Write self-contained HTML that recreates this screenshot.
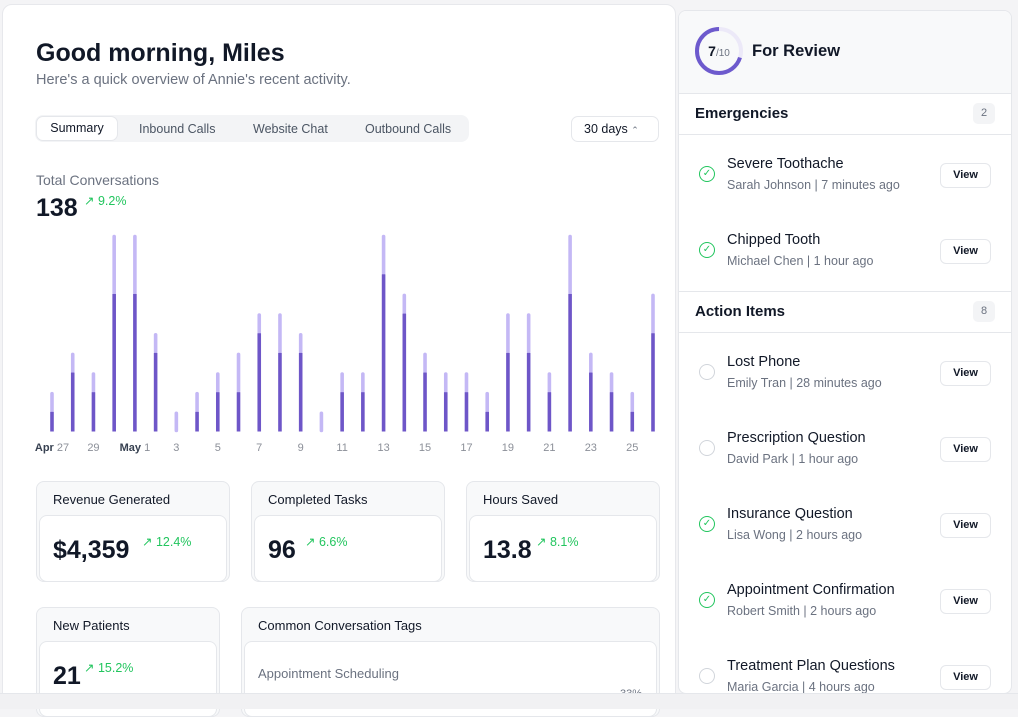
<!DOCTYPE html>
<html><head><meta charset="utf-8"><style>
*{box-sizing:border-box;margin:0;padding:0}
body{width:1018px;height:709px;overflow:hidden;background:#f4f4f6;font-family:"Liberation Sans",sans-serif;color:#111827;position:relative}
.abs{position:absolute}
.main{left:2px;top:4px;width:674px;height:700px;background:#fff;border:1px solid #e7e8ec;border-radius:10px}
.card{position:absolute;border:1px solid #e5e7eb;border-radius:8px;background:#f8f9fa}
.card .hd{position:absolute;left:16px;top:10px;font-size:13px;color:#111827}
.card .bd{position:absolute;left:2px;right:2px;top:33px;bottom:-1px;background:#fff;border:1px solid #e5e7eb;border-radius:8px}
.big{position:absolute;font-size:25px;font-weight:bold}
.pct{position:absolute;font-size:12.5px;color:#22c55e}
.right{left:678px;top:10px;width:334px;height:684px;background:#fff;border:1px solid #e5e7eb;border-radius:8px;overflow:hidden}
.item-t{position:absolute;left:48px;font-size:14.5px;color:#111827}
.item-s{position:absolute;left:48px;font-size:12.5px;color:#6b7280}
.view{position:absolute;left:261px;width:51px;height:25px;border:1px solid #e5e7eb;border-radius:6px;font-size:11px;font-weight:bold;text-align:center;line-height:23px;background:#fff}
.icon{position:absolute;left:20px;width:16px;height:16px;border-radius:50%}
</style></head><body>
<div class="abs main"></div>
<div class="abs" style="left:36px;top:39px;font-size:25px;font-weight:bold">Good morning, Miles</div>
<div class="abs" style="left:36px;top:72px;font-size:14.5px;color:#6b7280">Here's a quick overview of Annie's recent activity.</div>
<div class="abs" style="left:35px;top:115px;width:434px;height:27px;background:#f3f4f6;border-radius:8px"></div>
<div class="abs" style="left:36px;top:116px;width:82px;height:25px;background:#fff;border:1px solid #e5e7eb;border-radius:7px;font-size:12.5px;text-align:center;line-height:23px">Summary</div>
<div class="abs" style="left:139px;top:122px;font-size:12.5px;color:#4b5563">Inbound Calls</div>
<div class="abs" style="left:253px;top:122px;font-size:12.5px;color:#4b5563">Website Chat</div>
<div class="abs" style="left:365px;top:122px;font-size:12.5px;color:#4b5563">Outbound Calls</div>
<div class="abs" style="left:571px;top:116px;width:88px;height:26px;border:1px solid #e5e7eb;border-radius:7px;font-size:12.5px;line-height:24px;padding-left:12px">30 days <span style="font-size:9px;color:#6b7280">⌃</span></div>
<div class="abs" style="left:36px;top:172px;font-size:14px;color:#6b7280">Total Conversations</div>
<div class="abs" style="left:36px;top:194px;font-size:25px;font-weight:bold">138</div>
<div class="abs" style="left:84px;top:193px;font-size:12.5px;color:#22c55e">↗ 9.2%</div>
<svg class="abs" style="left:0;top:0" width="680" height="470" id="chart"></svg>

<div class="card" style="left:36px;top:481px;width:194px;height:101px"><div class="hd">Revenue Generated</div><div class="bd"></div><div class="big" style="left:16px;top:54px">$4,359</div><div class="pct" style="left:105px;top:52px">↗ 12.4%</div></div>
<div class="card" style="left:251px;top:481px;width:194px;height:101px"><div class="hd">Completed Tasks</div><div class="bd"></div><div class="big" style="left:16px;top:54px">96</div><div class="pct" style="left:53px;top:52px">↗ 6.6%</div></div>
<div class="card" style="left:466px;top:481px;width:194px;height:101px"><div class="hd">Hours Saved</div><div class="bd"></div><div class="big" style="left:16px;top:54px">13.8</div><div class="pct" style="left:69px;top:52px">↗ 8.1%</div></div>
<div class="card" style="left:36px;top:607px;width:184px;height:110px"><div class="hd">New Patients</div><div class="bd"></div><div class="big" style="left:16px;top:54px">21</div><div class="pct" style="left:47px;top:52px">↗ 15.2%</div></div>
<div class="card" style="left:241px;top:607px;width:419px;height:110px"><div class="hd">Common Conversation Tags</div><div class="bd"></div>
<div class="abs" style="left:16px;top:58px;font-size:13px;color:#6b7280">Appointment Scheduling</div>
<div class="abs" style="left:16px;top:85px;width:275px;height:4px;background:#f1f1f4;border-radius:2px"></div>
<div class="abs" style="left:16px;top:85px;width:112px;height:4px;background:#6d5acd;border-radius:2px"></div>
<div class="abs" style="left:378px;top:80px;font-size:11px;color:#6b7280">33%</div></div>
<div class="abs" style="left:0;top:693px;width:1018px;height:16px;background:#f1f1f3;border-top:1px solid #e5e7eb;z-index:5"></div>

<div class="abs right">
<div class="abs" style="left:0;top:0;width:334px;height:82px;background:#f8f9fa"></div>
<svg class="abs" style="left:16px;top:16px" width="50" height="50"><circle cx="24" cy="24" r="22" fill="none" stroke="#ece9f8" stroke-width="4"/><circle cx="24" cy="24" r="22" fill="none" stroke="#6d5acd" stroke-width="4" stroke-dasharray="96.8 138.2" transform="rotate(-90 24 24) scale(1,-1) translate(0,-48)"/><text x="24" y="29" text-anchor="middle" font-size="14" font-weight="bold" fill="#111827" font-family="Liberation Sans">7<tspan font-size="10" font-weight="normal" fill="#6b7280">/10</tspan></text></svg>
<div class="abs" style="left:73px;top:31px;font-size:16.5px;font-weight:bold">For Review</div>
<div class="abs" style="left:0;top:82px;width:334px;border-top:1px solid #e5e7eb"></div>
<div class="abs" style="left:16px;top:94px;font-size:15px;font-weight:bold">Emergencies</div>
<div class="abs" style="left:294px;top:92px;width:22px;height:21px;background:#f3f4f6;border-radius:5px;font-size:11px;color:#6b7280;text-align:center;line-height:21px">2</div>
<div class="abs" style="left:0;top:123px;width:334px;border-top:1px solid #e5e7eb"></div>
<div id="items"></div>
<div class="abs" style="left:0;top:280px;width:334px;border-top:1px solid #e5e7eb"></div>
<div class="abs" style="left:16px;top:292px;font-size:15px;font-weight:bold">Action Items</div>
<div class="abs" style="left:294px;top:290px;width:22px;height:21px;background:#f3f4f6;border-radius:5px;font-size:11px;color:#6b7280;text-align:center;line-height:21px">8</div>
<div class="abs" style="left:0;top:321px;width:334px;border-top:1px solid #e5e7eb"></div>
</div>
<script>
const categories=["Apr 27","28","29","30","May 1","2","3","4","5","6","7","8","9","10","11","12","13","14","15","16","17","18","19","20","21","22","23","24","25","26"];
const primaryValues=[1,3,2,7,7,4,0,1,2,2,5,4,4,0,2,2,8,6,3,2,2,1,4,4,2,7,3,2,1,5];
const secondaryValues=[1,1,1,3,3,1,1,1,1,2,1,2,1,1,1,1,2,1,1,1,1,1,2,2,1,3,1,1,1,2];
const tickDays=["27","29","1","3","5","7","9","11","13","15","17","19","21","23","25"];
const tickMonths=["Apr","","May","","","","","","","","","","","",""];
const tickIndex=[0,2,4,6,8,10,12,14,16,18,20,22,24,26,28];
const yMax=10;
const NS="http://www.w3.org/2000/svg";
const svg=document.getElementById('chart');
const x0=52,x1=653,base=431.5,top0=235;
function xs(i){return x0+(x1-x0)*i/(categories.length-1)}
function ys(v){return base-(base-top0)*v/yMax}
categories.forEach((c,i)=>{
 const p=primaryValues[i],s=secondaryValues[i],x=xs(i);
 const t=document.createElementNS(NS,'line');
 t.setAttribute('x1',x);t.setAttribute('x2',x);t.setAttribute('y1',ys(p)-1);t.setAttribute('y2',ys(p+s)+1.5);
 t.setAttribute('stroke','#c4b8f5');t.setAttribute('stroke-width','3.6');t.setAttribute('stroke-linecap','round');
 
 
 svg.appendChild(t);
 if(p>0){const b=document.createElementNS(NS,'rect');
 b.setAttribute('x',x-1.8);b.setAttribute('width',3.6);b.setAttribute('y',ys(p));b.setAttribute('height',base-ys(p));b.setAttribute('fill','#6e56c8');
 
 
 svg.appendChild(b);}
});
tickIndex.forEach((ti,k)=>{
 const tx=document.createElementNS(NS,'text');
 tx.setAttribute('x',xs(ti));tx.setAttribute('y',451);tx.setAttribute('font-size','11');tx.setAttribute('fill','#8b8f98');tx.setAttribute('text-anchor','middle');tx.setAttribute('font-family','Liberation Sans');
 if(tickMonths[k]){const ts=document.createElementNS(NS,'tspan');ts.setAttribute('font-weight','bold');ts.setAttribute('fill','#374151');ts.textContent=tickMonths[k]+' ';tx.appendChild(ts);}
 tx.appendChild(document.createTextNode(tickDays[k]));
 
 
 svg.appendChild(tx);
});
const items=[["Severe Toothache","Sarah Johnson | 7 minutes ago",1,154],["Chipped Tooth","Michael Chen | 1 hour ago",1,230],["Lost Phone","Emily Tran | 28 minutes ago",0,352],["Prescription Question","David Park | 1 hour ago",0,428],["Insurance Question","Lisa Wong | 2 hours ago",1,504],["Appointment Confirmation","Robert Smith | 2 hours ago",1,580],["Treatment Plan Questions","Maria Garcia | 4 hours ago",0,656]];
const cont=document.getElementById('items');
items.forEach(it=>{const y=it[3];
 const w=document.createElement('div');
 
 
 w.innerHTML=`<div class="icon" style="top:${y+1}px;border:1.6px solid ${it[2]?'#22c55e':'#d1d5db'};color:#22c55e;font-size:10px;text-align:center;line-height:13px">${it[2]?'✓':''}</div><div class="item-t" style="top:${y-9}px">${it[0]}</div><div class="item-s" style="top:${y+13}px">${it[1]}</div><div class="view" style="top:${y-2}px">View</div>`;
 cont.appendChild(w);});
</script>
</body></html>
